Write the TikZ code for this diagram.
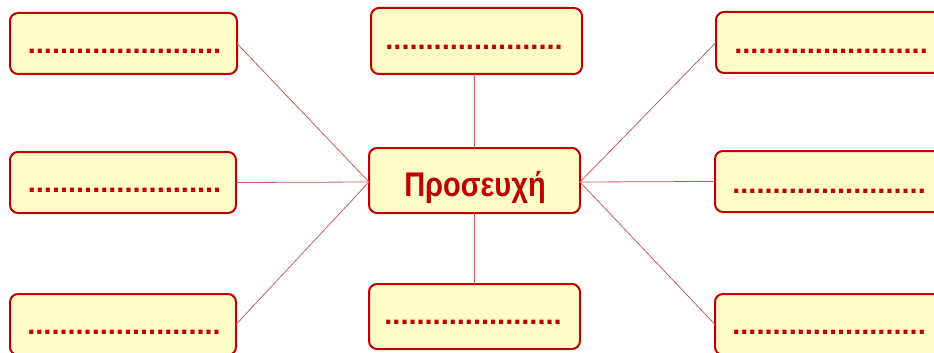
\documentclass[tikz,border=0pt]{standalone}
\usepackage{fontspec}
\setmainfont{Liberation Sans}
\definecolor{boxfill}{RGB}{255,252,200}
\definecolor{boxline}{RGB}{192,0,0}
\definecolor{linkcol}{RGB}{204,90,90}
\begin{document}
\begin{tikzpicture}[x=1pt,y=-1pt,
  box/.style={draw=boxline,fill=boxfill,line width=2pt,rounded corners=8pt,inner sep=0pt,outer sep=0pt},
  dots/.style={anchor=base,inner sep=0pt,text=boxline,font=\fontsize{29}{29}\selectfont\bfseries},
  title/.style={anchor=base,inner sep=0pt,text=boxline,font=\fontsize{29}{29}\selectfont\bfseries},
  link/.style={draw=linkcol,line width=0.8pt}]
\useasboundingbox (0,0) rectangle (934,353);
\clip (0,0) rectangle (934,353);
% boxes
\node[box,minimum width=227pt,minimum height=61pt] (TL) at (123.5,43.5) {};
\node[box,minimum width=226pt,minimum height=61pt] (ML) at (123,182.5) {};
\node[box,minimum width=226pt,minimum height=61pt] (BL) at (123,324.5) {};
\node[box,minimum width=211pt,minimum height=66pt] (TM) at (476.5,41) {};
\node[box,minimum width=211pt,minimum height=65pt] (C) at (474.5,180.5) {};
\node[box,minimum width=211pt,minimum height=65pt] (BM) at (474.5,316.5) {};
\node[box,minimum width=227pt,minimum height=61pt] (TR) at (829.5,42.5) {};
\node[box,minimum width=227pt,minimum height=61pt] (MR) at (828.5,181.5) {};
\node[box,minimum width=227pt,minimum height=61pt] (BR) at (828.5,324.5) {};
% texts
\node[dots] (tTL) at (124.5,53) {........................};
\node[dots] (tML) at (124.5,192) {........................};
\node[dots] (tBL) at (124,334) {........................};
\node[dots] (tTM) at (474,49.5) {......................};
\node[dots] (tBM) at (473,324) {......................};
\node[dots] (tTR) at (831,53) {........................};
\node[dots] (tMR) at (829,193) {........................};
\node[dots] (tBR) at (829,334) {........................};
\node[title] (tC) at (475,196) {\scalebox{1}[1.18]{Προσευχή}};
% connectors
\draw[link] (TL.east) -- ([yshift=-1.5pt]C.west);
\draw[link] (ML.east) -- ([yshift=-1.5pt]C.west);
\draw[link] (BL.east) -- ([yshift=-1.5pt]C.west);
\draw[link] (TR.west) -- ([yshift=-1.5pt]C.east);
\draw[link] (MR.west) -- ([yshift=-1.5pt]C.east);
\draw[link] (BR.west) -- ([yshift=-1.5pt]C.east);
\draw[link] (C.north) -- (C.north |- TM.south);
\draw[link] (C.south) -- (C.south |- BM.north);
\end{tikzpicture}
\end{document}
